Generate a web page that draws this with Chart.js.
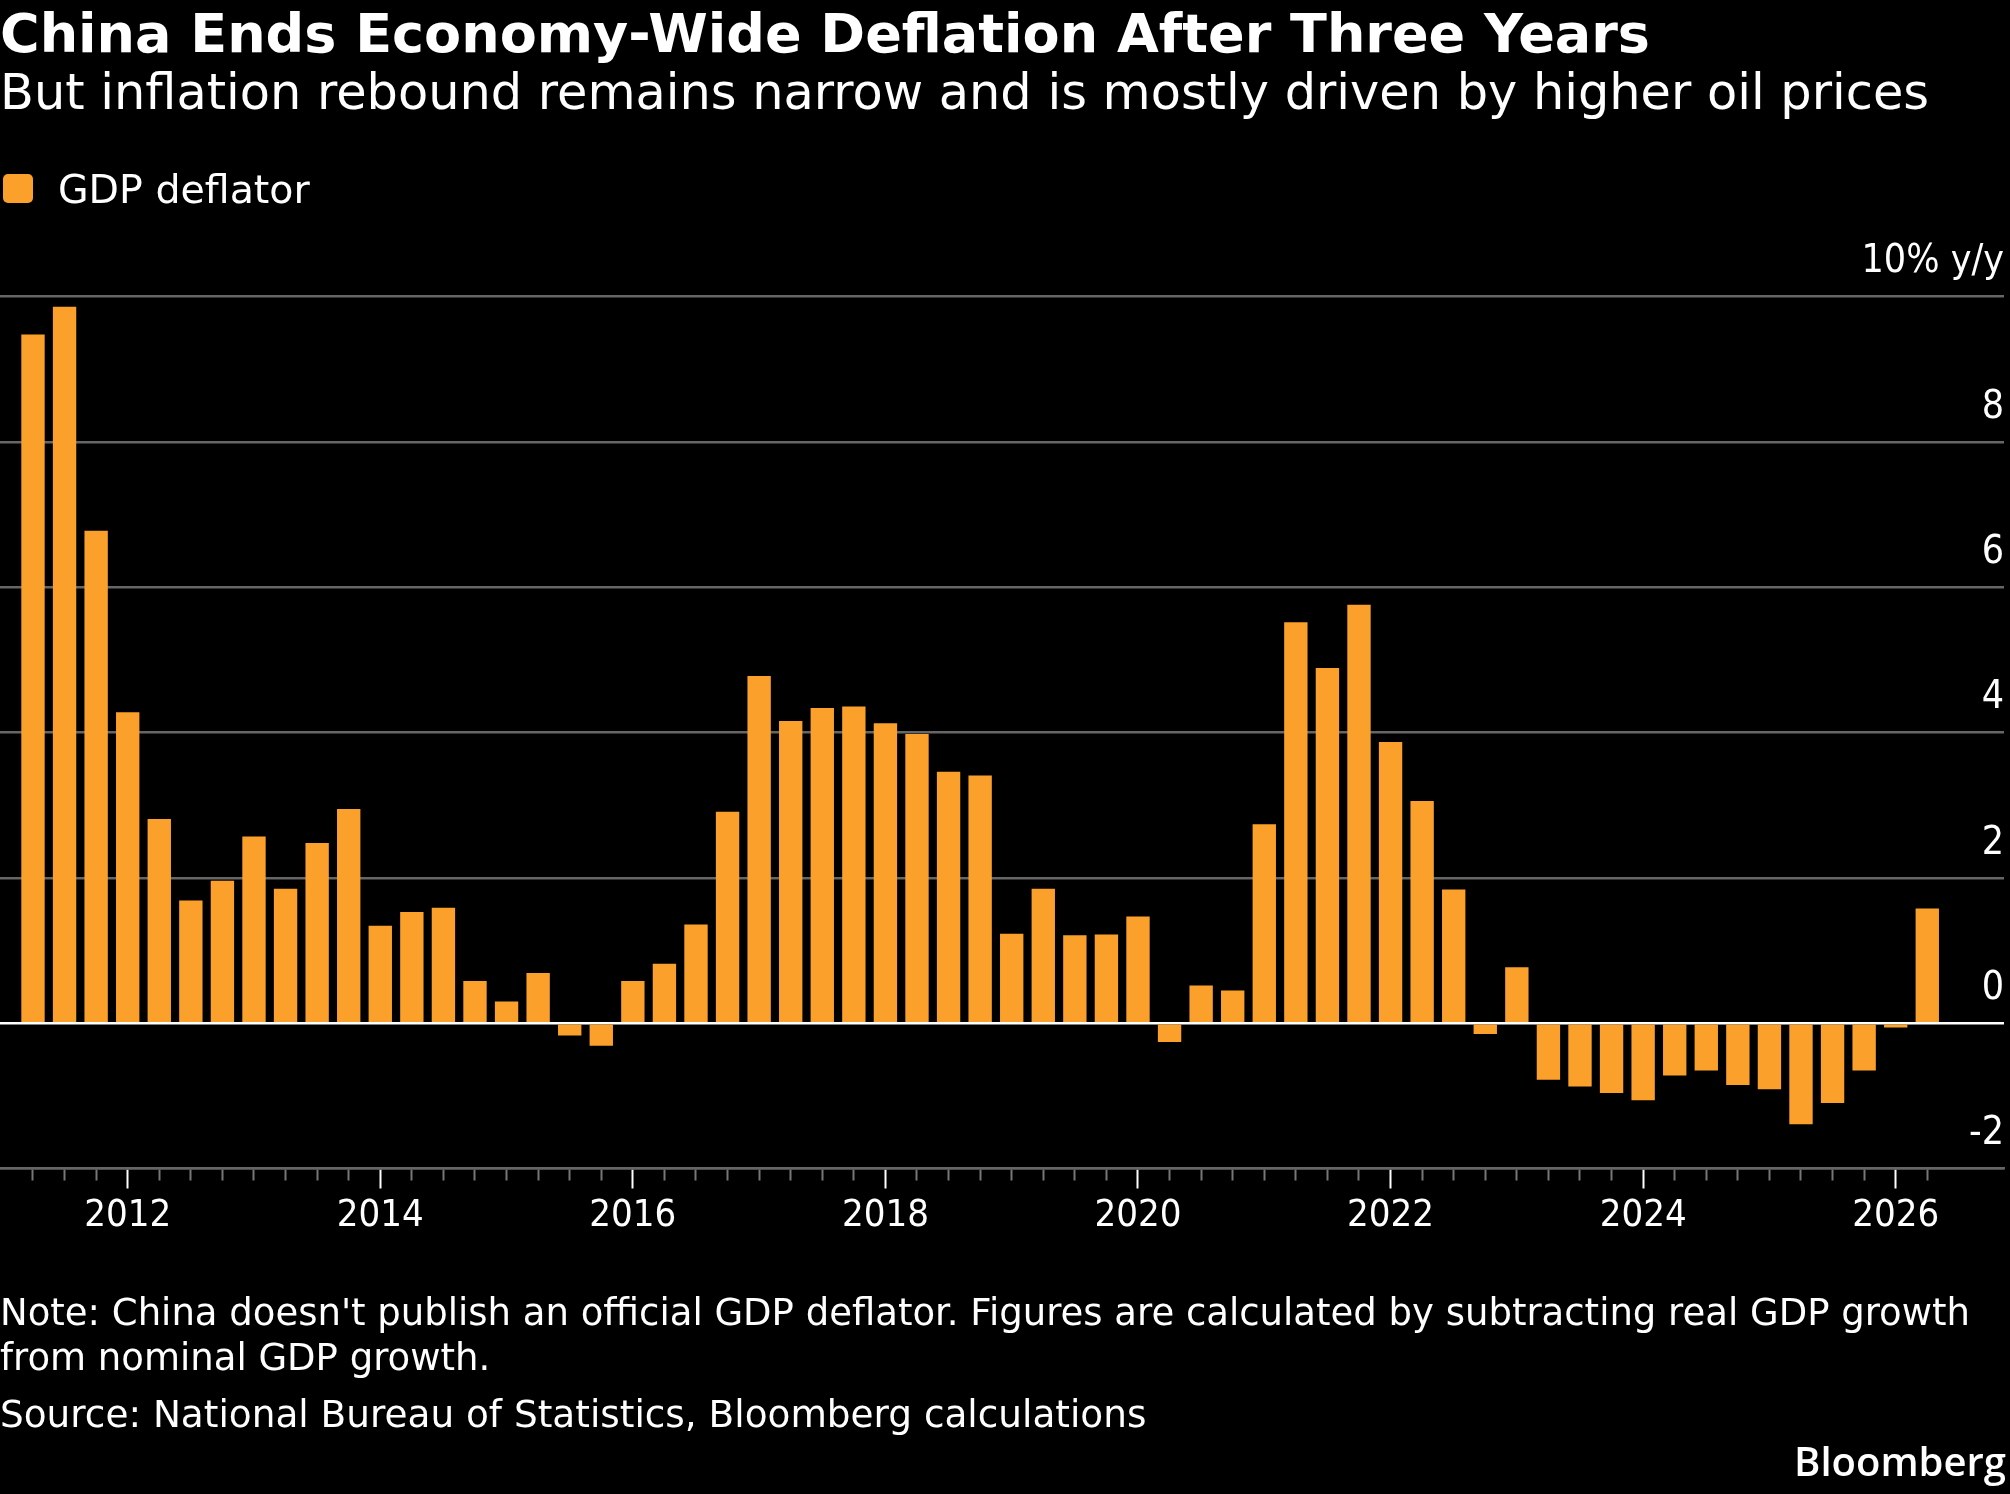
<!DOCTYPE html>
<html>
<head>
<meta charset="utf-8">
<script src="https://cdn.jsdelivr.net/npm/chart.js@4/dist/chart.umd.min.js"></script>
<style>
  html, body { margin: 0; padding: 0; background: #000; }
  body { width: 2010px; height: 1494px; position: relative; overflow: hidden;
         font-family: "DejaVu Sans", sans-serif; color: #fff; }
  .t { position: absolute; left: 0; white-space: nowrap; line-height: 1; }
  #title { top: 7px; font-size: 54px; font-weight: bold; }
  #subtitle { top: 68.2px; font-size: 49.4px; }
  #legend { top: 169.6px; left: 0; font-size: 39.5px; }
  #legend .sw { position: absolute; left: 3px; top: 4.5px; width: 30px; height: 29px; border-radius: 5px; background: #FBA12B; }
  #legend .lb { position: absolute; left: 58px; top: 0; white-space: nowrap; }
  #note { top: 1290px; font-size: 37px; line-height: 45px; }
  #source { top: 1391.5px; font-size: 37.4px; line-height: 45px; }
  #brand { position: absolute; right: 4px; top: 1441px; font-family: "Open Sans", sans-serif; font-weight: 600; font-size: 40px; line-height: 1; }
  canvas { position: absolute; left: 0; top: 0; }
</style>
</head>
<body>
<canvas id="c" width="2010" height="1494"></canvas>
<div class="t" id="title">China Ends Economy-Wide Deflation After Three Years</div>
<div class="t" id="subtitle">But inflation rebound remains narrow and is mostly driven by higher oil prices</div>
<div class="t" id="legend"><span class="sw"></span><span class="lb">GDP deflator</span></div>
<div class="t" id="note">Note: China doesn't publish an official GDP deflator. Figures are calculated by subtracting real GDP growth<br>from nominal GDP growth.</div>
<div class="t" id="source">Source: National Bureau of Statistics, Bloomberg calculations</div>
<div id="brand">Bloomberg</div>
<script>
// ---- data ----
const quarters = [
  '2011Q1','2011Q2','2011Q3','2011Q4',
  '2012Q1','2012Q2','2012Q3','2012Q4',
  '2013Q1','2013Q2','2013Q3','2013Q4',
  '2014Q1','2014Q2','2014Q3','2014Q4',
  '2015Q1','2015Q2','2015Q3','2015Q4',
  '2016Q1','2016Q2','2016Q3','2016Q4',
  '2017Q1','2017Q2','2017Q3','2017Q4',
  '2018Q1','2018Q2','2018Q3','2018Q4',
  '2019Q1','2019Q2','2019Q3','2019Q4',
  '2020Q1','2020Q2','2020Q3','2020Q4',
  '2021Q1','2021Q2','2021Q3','2021Q4',
  '2022Q1','2022Q2','2022Q3','2022Q4',
  '2023Q1','2023Q2','2023Q3','2023Q4',
  '2024Q1','2024Q2','2024Q3','2024Q4',
  '2025Q1','2025Q2','2025Q3','2025Q4',
  '2026Q1'
];
const gdpDeflator = [
  9.48, 9.86, 6.78, 4.28,
  2.81, 1.69, 1.96, 2.57,
  1.85, 2.48, 2.95, 1.34,
  1.53, 1.59, 0.58, 0.30,
  0.69, -0.17, -0.31, 0.58,
  0.82, 1.36, 2.91, 4.78,
  4.16, 4.34, 4.36, 4.13,
  3.98, 3.46, 3.41, 1.23,
  1.85, 1.21, 1.22, 1.47,
  -0.26, 0.52, 0.45, 2.74,
  5.52, 4.89, 5.76, 3.87,
  3.06, 1.84, -0.15, 0.77,
  -0.78, -0.87, -0.96, -1.06,
  -0.72, -0.65, -0.85, -0.91,
  -1.39, -1.10, -0.65, -0.06,
  1.58
];
// year labels sit on the last quarter of the previous year
const xTickQuarters = ['2011Q4','2013Q4','2015Q4','2017Q4','2019Q4','2021Q4','2023Q4','2025Q4'];
const xTickLabels   = ['2012','2014','2016','2018','2020','2022','2024','2026'];
const yTickValues = [-2, 0, 2, 4, 6, 8, 10];
const yTickLabels = ['-2', '0', '2', '4', '6', '8', '10% y/y'];

// ---- chart ----
const FONT = '"DejaVu Sans Condensed", "DejaVu Sans", sans-serif';
const BAR = '#FBA12B';
const GRID = '#666666';
const isMajor = (i) => xTickQuarters.includes(quarters[i]);

new Chart(document.getElementById('c'), {
  type: 'bar',
  data: {
    datasets: [{
      label: 'GDP deflator',
      data: gdpDeflator.map((v, i) => ({ x: i, y: v })),
      backgroundColor: BAR,
      borderWidth: 0,
      barPercentage: 0.74,
      categoryPercentage: 1
    }]
  },
  options: {
    responsive: false,
    animation: false,
    devicePixelRatio: 1,
    layout: { padding: { top: 296.7, left: 0, right: 0, bottom: 0 } },
    plugins: { legend: { display: false }, tooltip: { enabled: false }, title: { display: false } },
    scales: {
      x: {
        type: 'linear',
        min: -1.045,
        max: 62.43,
        offset: false,
        afterBuildTicks: (s) => { s.ticks = quarters.map((q, i) => ({ value: i })); },
        afterFit: (s) => { s.height = 1494 - 1168.5; },
        grid: {
          offset: false,
          drawOnChartArea: false,
          drawTicks: true,
          tickLength: 20,
          tickWidth: 2,
          tickColor: (ctx) => isMajor(ctx.index) ? '#ffffff' : '#777777',
          tickBorderDash: (ctx) => isMajor(ctx.index) ? [] : [11, 40]
        },
        border: { display: true, color: GRID, width: 2.5 },
        ticks: {
          autoSkip: false,
          maxRotation: 0,
          minRotation: 0,
          padding: 5,
          color: '#ffffff',
          font: { family: FONT, size: 38 },
          callback: (v) => {
            const k = xTickQuarters.indexOf(quarters[v]);
            return k >= 0 ? xTickLabels[k] : '';
          }
        }
      },
      y: {
        position: 'right',
        min: -2,
        max: 10,
        afterBuildTicks: (s) => { s.ticks = yTickValues.map((v) => ({ value: v })); },
        afterFit: (s) => { s.width = 6; },
        grid: {
          drawTicks: false,
          lineWidth: 2.5,
          color: (ctx) => ctx.tick && ctx.tick.value === 0 ? '#ffffff' : GRID
        },
        border: { display: false },
        ticks: {
          mirror: true,
          padding: 0,
          labelOffset: -34.5,
          color: '#ffffff',
          font: { family: FONT, size: 39 },
          callback: (v) => yTickLabels[yTickValues.indexOf(v)]
        }
      }
    }
  }
});
</script>
</body>
</html>
